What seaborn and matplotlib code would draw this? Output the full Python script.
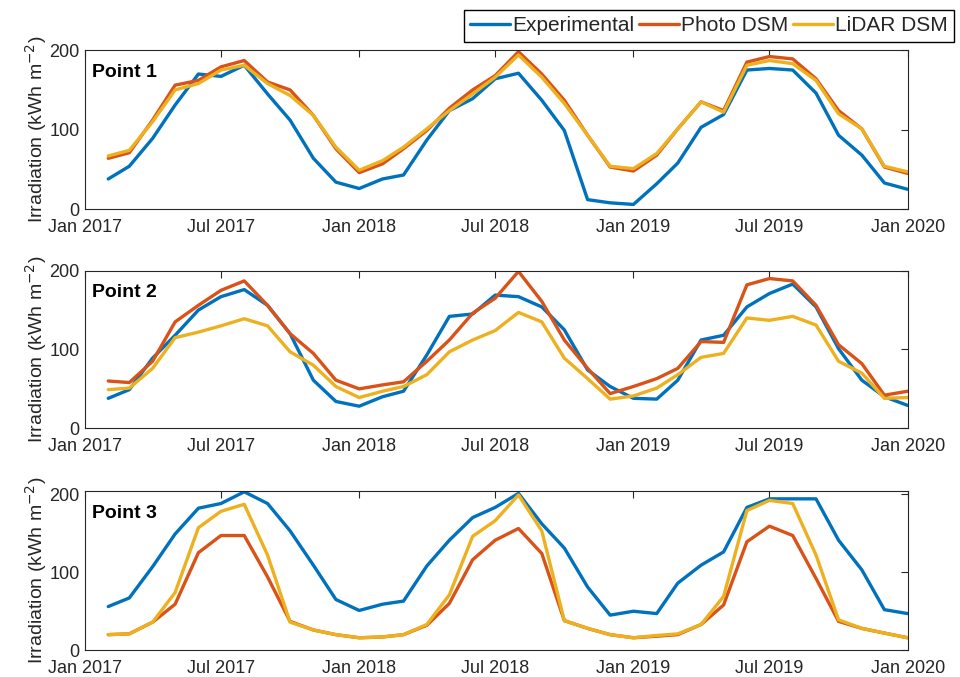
import numpy as np
import pandas as pd
import matplotlib
matplotlib.use("Agg")
import matplotlib.pyplot as plt
import matplotlib.dates as mdates
import seaborn as sns

# Monthly irradiation (kWh m^-2), Feb 2017 .. Jan 2020
months = pd.date_range("2017-02-01", periods=36, freq="MS")
series_names = ["Experimental", "Photo DSM", "LiDAR DSM"]
panel_titles = ["Point 1", "Point 2", "Point 3"]

p1_experimental = [38, 54, 89, 131, 170, 167, 181, 145, 112, 64, 34, 26,
                   38, 43, 87, 124, 139, 164, 171, 137, 99, 12, 8, 6,
                   32, 58, 103, 119, 175, 177, 175, 146, 93, 68, 33, 25]
p1_photo = [64, 71, 112, 156, 162, 179, 187, 160, 150, 118, 76, 46,
            57, 76, 99, 127, 150, 168, 198, 170, 137, 93, 53, 48,
            68, 101, 135, 124, 185, 192, 189, 164, 124, 101, 53, 45]
p1_lidar = [67, 74, 110, 150, 158, 175, 181, 158, 143, 118, 78, 49,
            61, 78, 101, 124, 145, 166, 194, 166, 133, 93, 54, 51,
            70, 101, 135, 122, 181, 187, 183, 162, 120, 101, 54, 47]

p2_experimental = [38, 49, 89, 118, 150, 167, 176, 156, 120, 61, 34, 28,
                   40, 47, 93, 142, 145, 169, 167, 154, 125, 74, 53, 38,
                   37, 61, 112, 118, 154, 171, 183, 154, 101, 61, 40, 29]
p2_photo = [60, 58, 85, 135, 156, 175, 187, 156, 120, 95, 61, 50,
            55, 59, 85, 112, 146, 165, 199, 161, 112, 76, 44, 53,
            63, 76, 110, 109, 182, 190, 187, 156, 106, 82, 42, 47]
p2_lidar = [49, 51, 76, 115, 122, 130, 139, 130, 97, 80, 53, 39,
            47, 53, 68, 97, 112, 124, 147, 135, 89, 63, 37, 41,
            51, 68, 90, 95, 140, 137, 142, 131, 85, 70, 38, 39]

p3_experimental = [56, 67, 107, 149, 182, 188, 203, 188, 153, 109, 65, 51,
                   59, 63, 108, 141, 170, 183, 201, 162, 131, 81, 45, 50,
                   47, 86, 109, 126, 183, 194, 194, 194, 141, 103, 52, 47]
p3_photo = [20, 21, 36, 59, 125, 147, 147, 94, 37, 26, 20, 16,
            17, 20, 32, 60, 116, 141, 156, 124, 38, 28, 20, 16,
            18, 20, 33, 58, 139, 159, 147, 92, 37, 28, 22, 16]
p3_lidar = [20, 21, 36, 74, 157, 178, 187, 122, 36, 26, 20, 16,
            17, 20, 33, 71, 146, 166, 199, 153, 38, 28, 20, 16,
            19, 21, 33, 69, 179, 192, 188, 122, 39, 28, 22, 16]

panels = [
    (p1_experimental, p1_photo, p1_lidar),
    (p2_experimental, p2_photo, p2_lidar),
    (p3_experimental, p3_photo, p3_lidar),
]
y_upper = [200, 200, 204]

palette = {"Experimental": "#0072BD", "Photo DSM": "#D95319", "LiDAR DSM": "#EDB120"}

sns.set_style("white")
plt.rcParams["font.family"] = ["Liberation Sans", "DejaVu Sans"]
plt.rcParams["axes.edgecolor"] = "#262626"
plt.rcParams["axes.linewidth"] = 0.8

fig = plt.figure(figsize=(9.6, 6.77), dpi=100)
left, width = 0.0885, 0.857
boxes = [(0.691, 0.2349), (0.3674, 0.2328), (0.0395, 0.2352)]

handles = None
for i, (vals, (b, h)) in enumerate(zip(panels, boxes)):
    ax = fig.add_axes([left, b, width, h])
    df = pd.concat([
        pd.DataFrame({"month": months, "irr": v, "series": name})
        for name, v in zip(series_names, vals)
    ], ignore_index=True)
    sns.lineplot(data=df, x="month", y="irr", hue="series", hue_order=series_names,
                 palette=palette, linewidth=2.4, ax=ax, legend=(i == 0))
    if i == 0:
        handles, labels = ax.get_legend_handles_labels()
        ax.get_legend().remove()
    ax.set_xlim(pd.Timestamp("2017-01-01"), pd.Timestamp("2020-01-01"))
    ax.set_ylim(0, y_upper[i])
    ax.set_yticks([0, 100, 200])
    ax.xaxis.set_major_locator(mdates.MonthLocator(bymonth=[1, 7]))
    ax.xaxis.set_major_formatter(mdates.DateFormatter("%b %Y"))
    ax.tick_params(direction="in", length=5, width=0.8, top=True, right=True,
                   labelsize=13, colors="#262626")
    ax.tick_params(axis="x", pad=7)
    ax.tick_params(axis="y", pad=4)
    ax.set_xlabel("")
    ax.set_ylabel("Irradiation (kWh m$^{-2}$)", fontsize=14, color="#262626", labelpad=0)
    for s in ax.spines.values():
        s.set_visible(True)
        s.set_color("#262626")
    ax.text(0.009, 0.86, panel_titles[i], transform=ax.transAxes, fontsize=14,
            fontweight="bold", ha="left", va="center", color="black")

fig.legend(handles, labels, loc="upper right", bbox_to_anchor=(0.9938, 0.985),
           ncol=3, fontsize=15, frameon=True, fancybox=False, edgecolor="black",
           framealpha=1, handlelength=1.92, handletextpad=0.08, columnspacing=0.25,
           borderpad=0.3, borderaxespad=0.0)

fig.savefig("out.png", dpi=100)
